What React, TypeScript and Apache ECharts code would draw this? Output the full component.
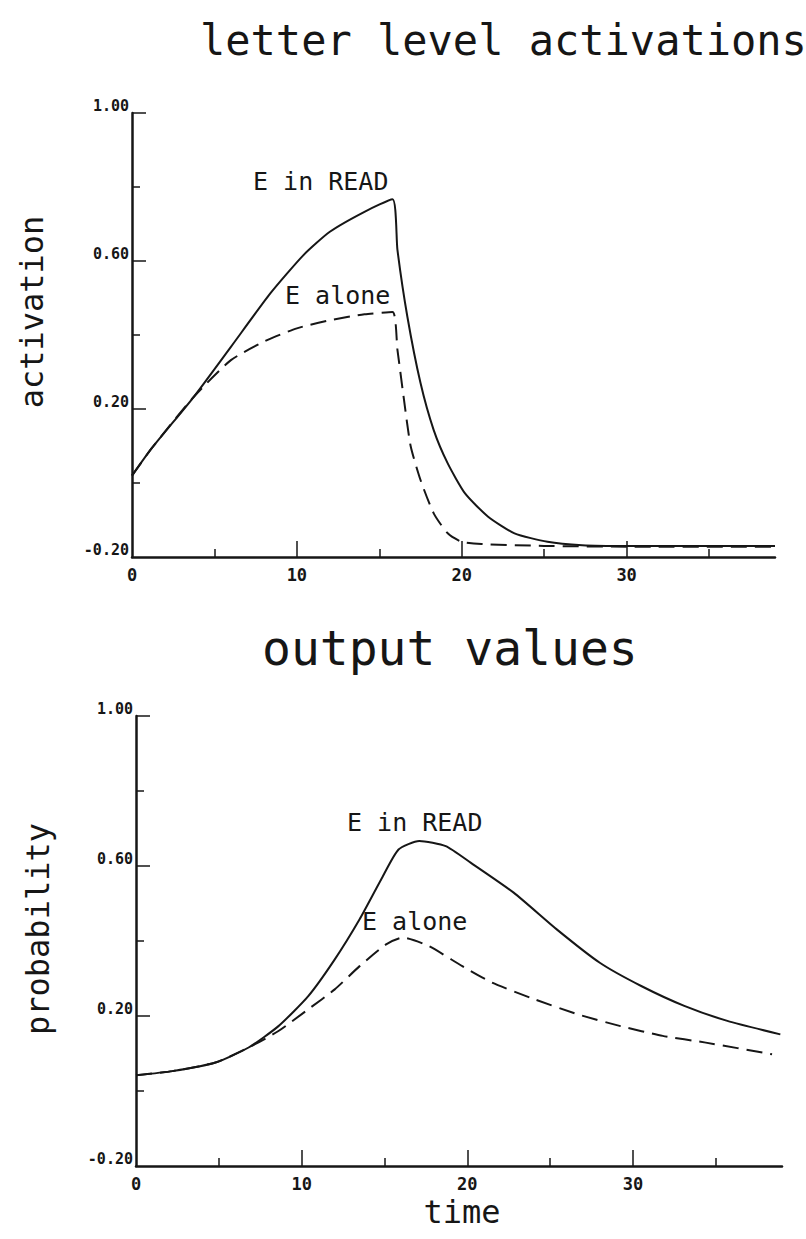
import React, { useEffect, useRef } from "react";
import * as echarts from "echarts";

// ---- axis ticks / labels ----
const xTickLabels = [0, 10, 20, 30];
const xMajorTicks = [10, 20, 30];
const xMinorTicks = [5, 15, 25, 35];
const yTickLabels = [-0.2, 0.2, 0.6, 1.0];
const yMajorTicks = [0.2, 0.6, 1.0];
const yMinorTicks = [0.0, 0.4, 0.8];

// ---- top panel: letter level activations ----
const actReadTime = [0, 1.2, 3.75, 6.0, 8.4, 10.4, 12.0, 14.1, 15.8, 16.1, 16.7, 17.5, 18.3, 19.15, 20.2, 21.6, 23.2, 25.2, 27.3, 30, 35, 39];
const actReadValue = [0.02, 0.094, 0.233, 0.368, 0.513, 0.616, 0.679, 0.733, 0.767, 0.63, 0.45, 0.27, 0.143, 0.053, -0.028, -0.091, -0.136, -0.159, -0.168, -0.17, -0.17, -0.17];
const actAloneTime = [0, 1.2, 3.75, 6.0, 8.0, 10.0, 12.0, 14.1, 15.8, 16.1, 16.5, 16.9, 17.5, 18.3, 19.15, 20.0, 21.2, 25, 30, 39];
const actAloneValue = [0.02, 0.094, 0.233, 0.332, 0.382, 0.418, 0.44, 0.456, 0.462, 0.36, 0.224, 0.1, 0.008, -0.082, -0.136, -0.159, -0.165, -0.17, -0.172, -0.172];

// ---- bottom panel: output values ----
const outReadTime = [0, 2.2, 4.8, 6.8, 8.6, 10.4, 12.0, 13.5, 14.8, 15.85, 17.1, 18.7, 20.2, 22.8, 25.4, 28.0, 30.5, 33.1, 35.7, 38.9];
const outReadValue = [0.042, 0.053, 0.076, 0.116, 0.173, 0.253, 0.351, 0.458, 0.564, 0.644, 0.667, 0.653, 0.609, 0.529, 0.431, 0.342, 0.28, 0.227, 0.187, 0.151];
const outAloneTime = [0, 2.2, 4.8, 6.8, 8.6, 10.4, 12.0, 13.5, 15.1, 16.1, 17.65, 19.7, 21.5, 24.1, 26.7, 29.25, 31.8, 34.4, 38.4];
const outAloneValue = [0.042, 0.053, 0.076, 0.116, 0.16, 0.218, 0.271, 0.333, 0.391, 0.409, 0.387, 0.333, 0.289, 0.244, 0.204, 0.173, 0.147, 0.129, 0.098];

const zip = (t: number[], v: number[]) => t.map((x, i) => [x, v[i]]);

const INK = "#161616";
const MONO = "DejaVu Sans Mono";

const grids = [
  { left: 132, top: 113, width: 643, height: 444 },
  { left: 136, top: 716, width: 646, height: 450 },
];

function xAxes(gridIndex: number) {
  return [
    {
      type: "value", gridIndex, position: "bottom", min: 0, max: 39,
      axisLine: { show: true, onZero: false, lineStyle: { color: INK, width: 2.5 } },
      axisTick: { show: true, inside: true, length: 16, customValues: xMajorTicks, lineStyle: { color: INK, width: 1.5 } },
      axisLabel: { show: true, customValues: xTickLabels, margin: 9, color: INK, fontFamily: MONO, fontSize: 17, fontWeight: "bold", formatter: (v: number) => String(v) },
      splitLine: { show: false },
    },
    {
      type: "value", gridIndex, position: "bottom", min: 0, max: 39,
      axisLine: { show: false, onZero: false },
      axisTick: { show: true, inside: true, length: 8, customValues: xMinorTicks, lineStyle: { color: INK, width: 1.5 } },
      axisLabel: { show: false },
      splitLine: { show: false },
    },
  ];
}

function yAxes(gridIndex: number) {
  return [
    {
      type: "value", gridIndex, position: "left", min: -0.2, max: 1.0,
      axisLine: { show: true, onZero: false, lineStyle: { color: INK, width: 2.5 } },
      axisTick: { show: true, inside: true, length: 14, customValues: yMajorTicks, lineStyle: { color: INK, width: 1.5 } },
      axisLabel: { show: true, customValues: yTickLabels, margin: 3, verticalAlign: "bottom", color: INK, fontFamily: MONO, fontSize: 15, fontWeight: "bold", formatter: (v: number) => v.toFixed(2) },
      splitLine: { show: false },
    },
    {
      type: "value", gridIndex, position: "left", min: -0.2, max: 1.0,
      axisLine: { show: false, onZero: false },
      axisTick: { show: true, inside: true, length: 8, customValues: yMinorTicks, lineStyle: { color: INK, width: 1.5 } },
      axisLabel: { show: false },
      splitLine: { show: false },
    },
  ];
}

function line(name: string, data: number[][], xi: number, yi: number, dashed: boolean) {
  return {
    name, type: "line", xAxisIndex: xi, yAxisIndex: yi, data,
    symbol: "none", smooth: 0.2,
    lineStyle: { color: INK, width: 2, type: dashed ? [16, 8] : "solid" },
    silent: true,
  };
}

function txt(text: string, x: number, y: number, size: number, extra: any = {}) {
  return {
    type: "text", x, y, ...extra,
    style: { text, fill: INK, font: `${size}px "${MONO}"`, align: extra.align || "left", verticalAlign: "middle" },
  };
}

export default function App() {
  const ref = useRef<HTMLDivElement>(null);
  useEffect(() => {
    if (!ref.current) return;
    const chart = echarts.init(ref.current, null, { renderer: "svg" });
    chart.setOption({
      animation: false,
      backgroundColor: "#ffffff",
      grid: grids,
      xAxis: [...xAxes(0), ...xAxes(1)],
      yAxis: [...yAxes(0), ...yAxes(1)],
      series: [
        line("E in READ", zip(actReadTime, actReadValue), 0, 0, false),
        line("E alone", zip(actAloneTime, actAloneValue), 0, 0, true),
        line("E in READ", zip(outReadTime, outReadValue), 2, 2, false),
        line("E alone", zip(outAloneTime, outAloneValue), 2, 2, true),
      ],
      graphic: [
        txt("letter level activations", 200, 40, 42),
        txt("output values", 262, 648, 48),
        txt("activation", 32, 312, 32, { rotation: Math.PI / 2, align: "center" }),
        txt("probability", 38, 929, 32, { rotation: Math.PI / 2, align: "center" }),
        txt("time", 462, 1212, 32, { align: "center" }),
        txt("E in READ", 253, 181, 25),
        txt("E alone", 285, 295, 25),
        txt("E in READ", 347, 822, 25),
        txt("E alone", 362, 921, 25),
      ],
    });
    return () => chart.dispose();
  }, []);
  return <div ref={ref} style={{ position: "fixed", left: 0, top: 0, width: 806, height: 1239, background: "#fff" }} />;
}
